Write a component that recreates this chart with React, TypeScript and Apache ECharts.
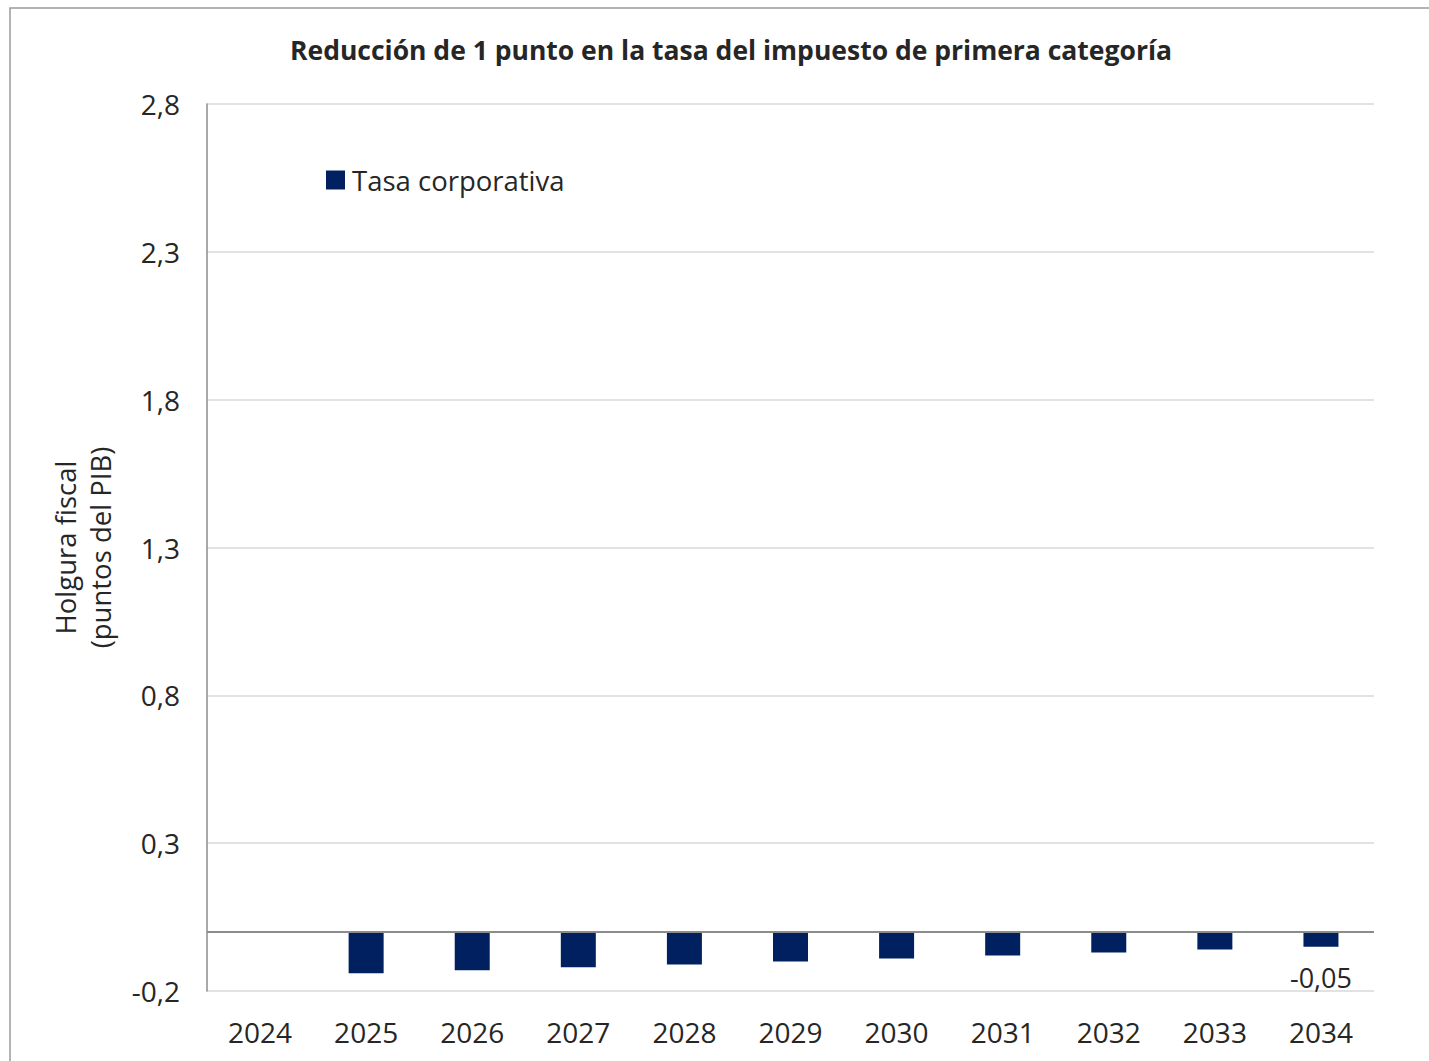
import React, { useEffect, useRef } from "react";
import * as echarts from "echarts";

const TITLE = "Reducción de 1 punto en la tasa del impuesto de primera categoría";
const SERIES_NAME = "Tasa corporativa";
const Y_AXIS_NAME = "Holgura fiscal\n(puntos del PIB)";
const YEARS = ["2024", "2025", "2026", "2027", "2028", "2029", "2030", "2031", "2032", "2033", "2034"];
const VALUES: (number | null)[] = [null, -0.14, -0.13, -0.12, -0.11, -0.1, -0.09, -0.08, -0.07, -0.06, -0.05];
const LABELED_INDEX = [10];
const Y_MIN = -0.2;
const Y_MAX = 2.8;
const Y_INTERVAL = 0.5;

const FONT = "'Open Sans', Lato, sans-serif";
const TEXT = "#262626";
const BAR = "#002060";

export default function App() {
  const ref = useRef<HTMLDivElement>(null);
  useEffect(() => {
    if (!ref.current) return;
    const chart = echarts.init(ref.current, undefined, { renderer: "svg" });
    const fmt = (v: number) => v.toFixed(Math.abs(v) < 0.1 && v !== 0 ? 2 : 1).replace(".", ",");
    chart.setOption({
      animation: false,
      backgroundColor: "#ffffff",
      textStyle: { fontFamily: FONT },
      title: {
        text: TITLE,
        left: 726,
        textAlign: "center",
        top: 31,
        textStyle: { fontFamily: FONT, fontSize: 26.5, fontWeight: "bold", color: TEXT },
      },
      legend: {
        left: 321,
        top: 161,
        itemWidth: 19,
        itemHeight: 19,
        itemGap: 6,
        icon: "rect",
        textStyle: { fontFamily: FONT, fontSize: 27.5, color: TEXT, padding: [0, 0, 0, 2] },
        data: [SERIES_NAME],
      },
      graphic: [
        {
          type: "rect",
          shape: { x: 10, y: 8, width: 1440, height: 1080 },
          style: { fill: "none", stroke: "#9a9a9a", lineWidth: 1.5 },
          silent: true,
        },
      ],
      grid: { left: 207, right: 55, top: 104, bottom: 70 },
      xAxis: {
        type: "category",
        data: YEARS,
        axisLine: { show: false, onZero: false },
        axisTick: { show: false },
        axisLabel: { margin: 27, fontFamily: FONT, fontSize: 28, color: TEXT },
      },
      yAxis: {
        type: "value",
        min: Y_MIN,
        max: Y_MAX,
        interval: Y_INTERVAL,
        name: Y_AXIS_NAME,
        nameLocation: "middle",
        nameGap: 89,
        nameTextStyle: { fontFamily: FONT, fontSize: 27.5, color: TEXT, lineHeight: 35 },
        axisLine: { show: true, lineStyle: { color: "#8c8c8c", width: 1.5 } },
        axisTick: { show: false },
        splitLine: { show: true, lineStyle: { color: "#d9d9d9", width: 1.5 } },
        axisLabel: {
          margin: 27,
          fontFamily: FONT,
          fontSize: 28,
          color: TEXT,
          formatter: (v: number) => v.toFixed(1).replace(".", ","),
        },
      },
      series: [
        {
          name: SERIES_NAME,
          type: "bar",
          barWidth: 35,
          itemStyle: { color: BAR },
          data: VALUES.map((v, i) =>
            LABELED_INDEX.includes(i)
              ? {
                  value: v,
                  label: {
                    show: true,
                    position: "bottom",
                    distance: 17,
                    fontFamily: FONT,
                    fontSize: 27,
                    color: TEXT,
                    formatter: (p: any) => fmt(p.value),
                  },
                }
              : v
          ),
          markLine: {
            silent: true,
            symbol: "none",
            label: { show: false },
            lineStyle: { color: "#8c8c8c", width: 2, type: "solid" },
            data: [{ yAxis: 0 }],
          },
        },
      ],
    });
    return () => chart.dispose();
  }, []);
  return (
    <div
      ref={ref}
      style={{ position: "absolute", left: 0, top: 0, width: 1429, height: 1061 }}
    />
  );
}
